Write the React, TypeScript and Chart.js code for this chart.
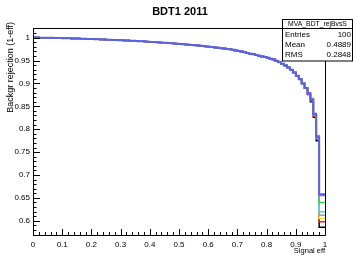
import React, { useEffect, useRef } from "react";
import { Chart, registerables } from "chart.js";
Chart.register(...registerables);

// ---- data ----
const nBins = 100;
const xRange = [0, 1];
const yRange = [0.569, 1.021];
const xTickValues = [0, 0.1, 0.2, 0.3, 0.4, 0.5, 0.6, 0.7, 0.8, 0.9, 1];
const yTickValues = [0.6, 0.65, 0.7, 0.75, 0.8, 0.85, 0.9, 0.95, 1];

// shared part of the curves (bins 0..94)
const baseRejection = [
  1.0, 1.0, 1.0, 0.9999, 0.9998, 0.9997, 0.9996, 0.9995, 0.9993, 0.9991,
  0.999, 0.9988, 0.9986, 0.9984, 0.9982, 0.998, 0.9978, 0.9976, 0.9974, 0.9972,
  0.997, 0.9968, 0.9965, 0.9962, 0.996, 0.9957, 0.9955, 0.9952, 0.995, 0.9947,
  0.9944, 0.9941, 0.9938, 0.9935, 0.9932, 0.9929, 0.9926, 0.9922, 0.9918, 0.9914,
  0.991, 0.9906, 0.9902, 0.9898, 0.9894, 0.989, 0.9886, 0.9882, 0.9877, 0.9872,
  0.9867, 0.9862, 0.9857, 0.9852, 0.9846, 0.984, 0.9834, 0.9828, 0.9822, 0.9815,
  0.9808, 0.9801, 0.9794, 0.9786, 0.9778, 0.977, 0.9762, 0.9753, 0.9744, 0.9735,
  0.972, 0.9708, 0.9695, 0.968, 0.9665, 0.965, 0.9635, 0.962, 0.9605, 0.959,
  0.9575, 0.956, 0.954, 0.952, 0.949, 0.946, 0.943, 0.939, 0.935, 0.93,
  0.924, 0.917, 0.909, 0.9, 0.89,
];
// last five bins (0.95..1.00) per histogram
const tailBlue = [0.878, 0.865, 0.832, 0.782, 0.658];
const tailMagenta = [0.879, 0.866, 0.833, 0.783, 0.655];
const tailGreen = [0.879, 0.864, 0.834, 0.785, 0.64];
const tailCyan = [0.878, 0.866, 0.833, 0.781, 0.62];
const tailGray = [0.879, 0.867, 0.835, 0.786, 0.612];
const tailYellow = [0.878, 0.865, 0.831, 0.78, 0.605];
const tailRed = [0.877, 0.862, 0.829, 0.779, 0.598];
const tailBlack = [0.876, 0.86, 0.826, 0.775, 0.586];

const seriesTails = [tailBlue, tailMagenta, tailGreen, tailCyan, tailGray, tailYellow, tailRed, tailBlack];
const seriesColors = ["#5a62e4", "#e040f0", "#40cc50", "#30e0f0", "#a0a0a0", "#f0f020", "#f02020", "#000000"];

const titleText = "BDT1 2011";
const xTitle = "Signal eff";
const yTitle = "Backgr rejection (1-eff)";
const statsName = "MVA_BDT_rejBvsS";
const statsRows = [
  ["Entries", "100"],
  ["Mean", "0.4889"],
  ["RMS", "0.2848"],
];

const FONT = "'Liberation Sans', Arial, Helvetica, sans-serif";

function buildPoints(tail: number[]) {
  const vals = baseRejection.concat(tail);
  const pts = vals.map((v, i) => ({ x: xRange[0] + (i * (xRange[1] - xRange[0])) / nBins, y: v }));
  pts.push({ x: xRange[1], y: vals[vals.length - 1] });
  return pts;
}

const rootPlugin = {
  id: "rootDecor",
  afterDatasetsDraw(chart: any) {
    const ctx = chart.ctx as CanvasRenderingContext2D;
    const { left, right, top, bottom } = chart.chartArea;
    const xs = chart.scales.x;
    const ys = chart.scales.y;
    ctx.save();
    ctx.strokeStyle = "#000";
    ctx.lineWidth = 1;
    // frame
    ctx.beginPath();
    ctx.rect(Math.round(left) + 0.5, Math.round(top) + 0.5, Math.round(right - left), Math.round(bottom - top));
    ctx.stroke();
    // x ticks
    ctx.beginPath();
    for (let k = 0; k <= 50; k++) {
      const v = k * 0.02;
      const px = Math.round(xs.getPixelForValue(v)) + 0.5;
      const major = k % 5 === 0;
      const len = major ? 6 : 3;
      ctx.moveTo(px, bottom);
      ctx.lineTo(px, bottom - len);
    }
    // y ticks
    for (let k = 0; k <= 45; k++) {
      const v = 0.57 + k * 0.01;
      if (v > yRange[1]) break;
      const py = Math.round(ys.getPixelForValue(v)) + 0.5;
      const major = Math.abs(Math.round(v * 100) % 5) === 0;
      const len = major ? 7 : 3.5;
      ctx.moveTo(left, py);
      ctx.lineTo(left + len, py);
    }
    ctx.stroke();

    // title
    ctx.fillStyle = "#000";
    ctx.font = `bold 11px ${FONT}`;
    ctx.textAlign = "center";
    ctx.textBaseline = "alphabetic";
    ctx.fillText(titleText, 180, 15);

    // x title
    ctx.font = `7.5px ${FONT}`;
    ctx.textAlign = "right";
    ctx.fillText(xTitle, right, 253);

    // y title
    ctx.save();
    ctx.translate(13, top - 6);
    ctx.rotate(-Math.PI / 2);
    ctx.textAlign = "right";
    ctx.font = `9px ${FONT}`;
    ctx.fillText(yTitle, 0, 0);
    ctx.restore();

    // stats box
    const bx = 282.5, by = 19.5, bw = 70, bh = 41.5;
    ctx.fillStyle = "#fff";
    ctx.fillRect(bx, by, bw, bh);
    ctx.strokeStyle = "#000";
    ctx.strokeRect(bx, by, bw, bh);
    ctx.beginPath();
    ctx.moveTo(bx, 28.5);
    ctx.lineTo(bx + bw, 28.5);
    ctx.stroke();
    ctx.fillStyle = "#000";
    ctx.font = `6.8px ${FONT}`;
    ctx.textAlign = "center";
    ctx.fillText(statsName, bx + bw / 2, 25.5);
    ctx.font = `8px ${FONT}`;
    statsRows.forEach((row, i) => {
      const yb = 37 + i * 10;
      ctx.textAlign = "left";
      ctx.fillText(row[0], bx + 2.5, yb);
      ctx.textAlign = "right";
      ctx.fillText(row[1], bx + bw - 1.5, yb);
    });
    ctx.restore();
  },
};

export default function App() {
  const ref = useRef<HTMLCanvasElement>(null);
  useEffect(() => {
    if (!ref.current) return;
    const datasets = seriesTails.map((tail, i) => ({
      label: `h${i}`,
      data: buildPoints(tail),
      borderColor: seriesColors[i],
      backgroundColor: seriesColors[i],
      borderWidth: i === 0 ? 2 : 1.5,
      pointRadius: 0,
      stepped: "after" as const,
      fill: false,
      order: i,
    }));
    const chart = new Chart(ref.current, {
      type: "line",
      data: { datasets },
      options: {
        responsive: false,
        animation: false,
        parsing: false as any,
        layout: { padding: { left: 0, top: 28, right: 28, bottom: 0 } },
        plugins: { legend: { display: false }, tooltip: { enabled: false }, title: { display: false } },
        scales: {
          x: {
            type: "linear",
            min: xRange[0],
            max: xRange[1],
            afterBuildTicks: (s: any) => {
              s.ticks = xTickValues.map((v) => ({ value: v }));
            },
            afterFit: (s: any) => {
              s.height = 20;
            },
            grid: { display: false, drawTicks: false },
            border: { display: false },
            ticks: {
              autoSkip: false,
              maxRotation: 0,
              padding: 5,
              color: "#000",
              font: { family: FONT, size: 8 },
              callback: (v: any) => (v === 0 ? "0" : v === 1 ? "1" : Number(v).toFixed(1)),
            },
          },
          y: {
            type: "linear",
            min: yRange[0],
            max: yRange[1],
            afterBuildTicks: (s: any) => {
              s.ticks = yTickValues.map((v) => ({ value: v }));
            },
            afterFit: (s: any) => {
              s.width = 33;
            },
            grid: { display: false, drawTicks: false },
            border: { display: false },
            ticks: {
              autoSkip: false,
              padding: 3,
              color: "#000",
              font: { family: FONT, size: 8 },
              callback: (v: any) => (Math.abs(v - 1) < 1e-9 ? "1" : String(Math.round(v * 100) / 100)),
            },
          },
        },
      },
      plugins: [rootPlugin],
    });
    return () => chart.destroy();
  }, []);
  return (
    <div style={{ position: "absolute", left: 0, top: 0, width: 353, height: 255, background: "#fff" }}>
      <canvas ref={ref} width={353} height={255} style={{ display: "block" }} />
    </div>
  );
}
